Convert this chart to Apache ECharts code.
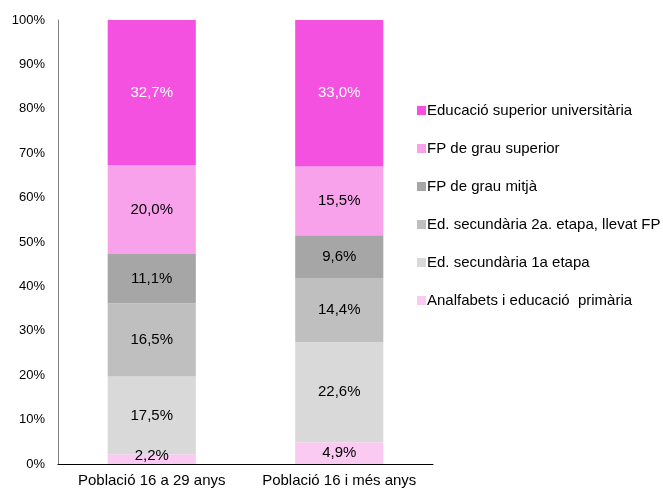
<!DOCTYPE html>
<html>
<head>
<meta charset="utf-8">
<script src="https://cdn.jsdelivr.net/npm/echarts@6/dist/echarts.min.js"></script>
<style>
  html, body { margin: 0; padding: 0; background: #fff; }
  #chart { width: 663px; height: 489px; }
</style>
</head>
<body>
<div id="chart"></div>
<script>
var categories = ["Població 16 a 29 anys", "Població 16 i més anys"];
var seriesNames = [
  "Analfabets i educació  primària",
  "Ed. secundària 1a etapa",
  "Ed. secundària 2a. etapa, llevat FP",
  "FP de grau mitjà",
  "FP de grau superior",
  "Educació superior universitària"
];
var analfabets = [2.2, 4.9];
var secundaria1 = [17.5, 22.6];
var secundaria2 = [16.5, 14.4];
var fpMitja = [11.1, 9.6];
var fpSuperior = [20.0, 15.5];
var universitaria = [32.7, 33.0];
var yTicks = [0, 10, 20, 30, 40, 50, 60, 70, 80, 90, 100];

var values = [analfabets, secundaria1, secundaria2, fpMitja, fpSuperior, universitaria];
var colors = ["#fbcaf3", "#d9d9d9", "#bfbfbf", "#a6a6a6", "#f9a2ec", "#f551e0"];
var font = "'Liberation Sans', Arial, sans-serif";

var myChart = echarts.init(document.getElementById("chart"));
myChart.setOption({
  animation: false,
  textStyle: { fontFamily: font },
  grid: { left: 58, right: 230, top: 20, bottom: 25 },
  legend: {
    data: seriesNames.slice().reverse(),
    orient: "vertical",
    left: 412,
    top: 98,
    itemWidth: 9,
    itemHeight: 9,
    itemGap: 23,
    icon: "rect",
    textStyle: { fontFamily: font, fontSize: 15, color: "#000", padding: [0, 0, 0, -4] }
  },
  xAxis: {
    type: "category",
    data: categories,
    axisLine: { lineStyle: { color: "#000", width: 1 } },
    axisTick: { show: false },
    axisLabel: { interval: 0, fontFamily: font, fontSize: 15, color: "#000", margin: 9 }
  },
  yAxis: {
    type: "value",
    min: 0,
    max: 100,
    interval: 10,
    axisLine: { show: true, lineStyle: { color: "#808080" } },
    axisTick: { show: false },
    splitLine: { show: false },
    axisLabel: {
      fontFamily: font, fontSize: 13, color: "#000", margin: 13,
      formatter: function (v) { return yTicks.indexOf(v) >= 0 ? v + "%" : ""; }
    }
  },
  series: seriesNames.map(function (name, i) {
    return {
      name: name,
      type: "bar",
      stack: "total",
      barWidth: "47%",
      data: values[i].map(function (v) {
        // small bottom segment: nudge label up so it clears the axis
        if (i === 0 && v < 3) return { value: v, label: { offset: [0, -3] } };
        return v;
      }),
      itemStyle: { color: colors[i] },
      label: {
        show: true,
        position: "inside",
        fontFamily: font,
        fontSize: 15,
        color: i === 5 ? "#fff" : "#000",
        formatter: function (p) { return p.value.toFixed(1).replace(".", ",") + "%"; }
      }
    };
  })
});
</script>
</body>
</html>
